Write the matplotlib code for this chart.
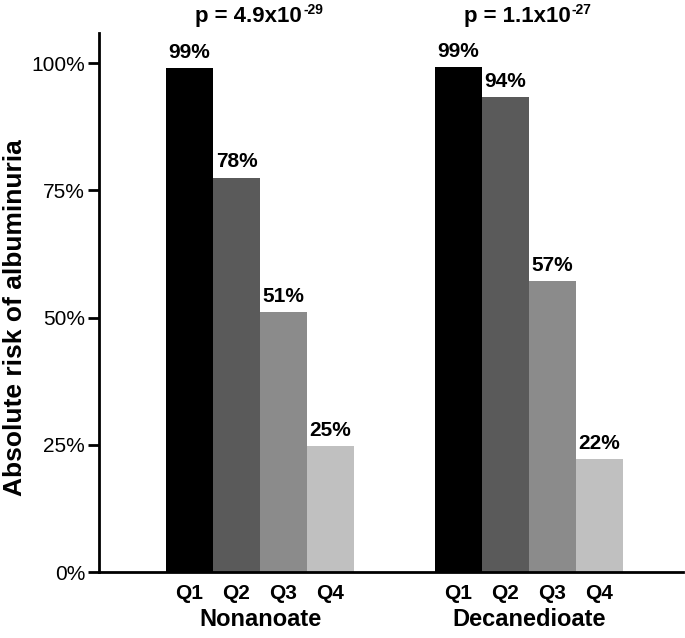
import matplotlib
matplotlib.use('Agg')
import matplotlib.pyplot as plt

groups = ['Nonanoate', 'Decanedioate']
quartiles = ['Q1', 'Q2', 'Q3', 'Q4']
nonanoate = [0.99, 0.775, 0.51, 0.248]
decanedioate = [0.992, 0.934, 0.572, 0.222]
value_labels = [['99%', '78%', '51%', '25%'], ['99%', '94%', '57%', '22%']]
p_mant = ['4.9', '1.1']
p_exp = ['-29', '-27']
yticks = [0, 0.25, 0.5, 0.75, 1.0]
ytick_labels = ['0%', '25%', '50%', '75%', '100%']

colors = ['#000000', '#5a5a5a', '#8b8b8b', '#c0c0c0']

plt.rcParams['font.family'] = ['Liberation Sans', 'DejaVu Sans']

fig = plt.figure(figsize=(6.85, 6.38), dpi=100)
ax = fig.add_axes([99 / 685, 1 - 572 / 638, (683 - 99) / 685, (572 - 33) / 638])

bar_w = 1.0
group_start = [0, 5.72]
for g, vals in enumerate([nonanoate, decanedioate]):
    xs = [group_start[g] + i * bar_w for i in range(4)]
    ax.bar(xs, vals, width=bar_w, color=colors, edgecolor='none')
    for x, v, lab in zip(xs, vals, value_labels[g]):
        ax.text(x, v + 0.012, lab, ha='center', va='bottom',
                fontweight='bold', fontsize=15)
    for x, q in zip(xs, quartiles):
        ax.text(x, -0.043, q, ha='center', va='center',
                fontweight='bold', fontsize=15)
    center = group_start[g] + 1.5
    ax.text(center, -0.093, groups[g], ha='center', va='center',
            fontweight='bold', fontsize=17)
    # p-value with superscript exponent
    t = ax.text(center - 0.25, 1.0806, 'p = ' + p_mant[g] + 'x10', ha='center',
                va='baseline', fontweight='bold', fontsize=16)
    ax.annotate(p_exp[g], xy=(1, 1), xycoords=t, xytext=(1, 2),
                textcoords='offset points', ha='left', va='top',
                fontweight='bold', fontsize=10)

ax.set_xlim(-1.926, 10.5)
ax.set_ylim(0, 1.059)
ax.set_yticks(yticks)
ax.set_yticklabels(ytick_labels, fontsize=15)
ax.set_xticks([])
ax.spines['top'].set_visible(False)
ax.spines['right'].set_visible(False)
ax.spines['left'].set_linewidth(2)
ax.spines['bottom'].set_linewidth(2)
ax.tick_params(axis='y', length=8, width=2, pad=2)
ax.text(-0.144, 0.5, 'Absolute risk of albuminuria', rotation=90, ha='center',
        va='center', fontweight='bold', fontsize=19, transform=ax.get_yaxis_transform())

fig.savefig('out.png', dpi=100)
